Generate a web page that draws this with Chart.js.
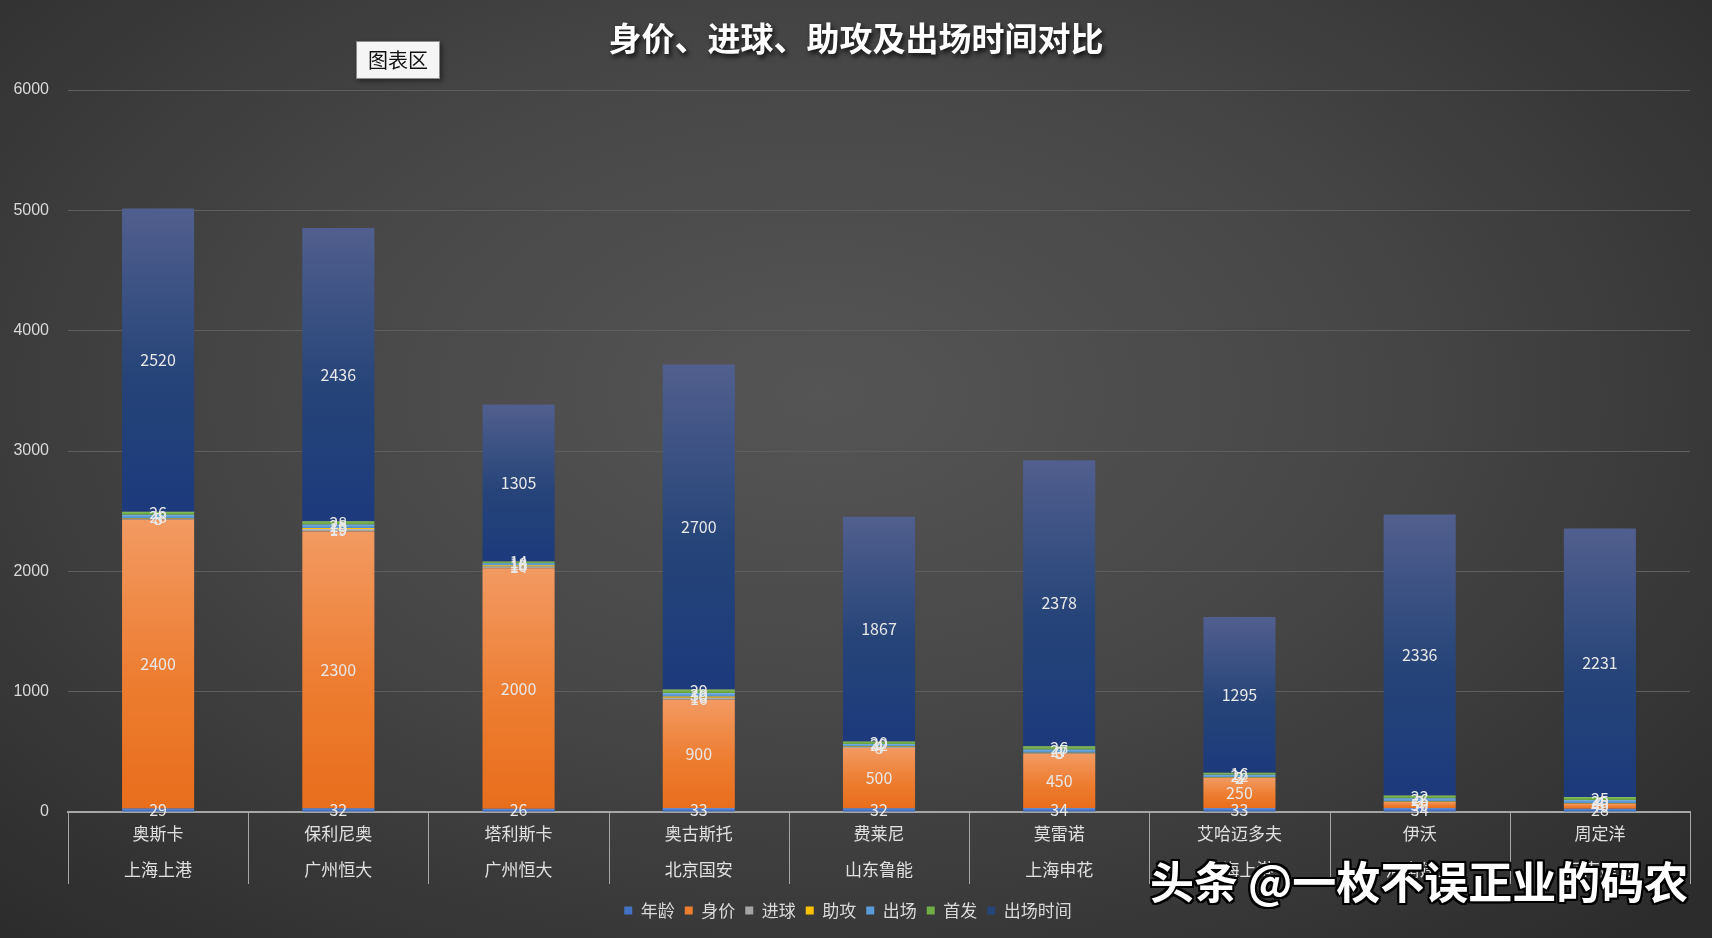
<!DOCTYPE html>
<html>
<head>
<meta charset="utf-8">
<title>身价、进球、助攻及出场时间对比</title>
<script src="https://cdn.jsdelivr.net/npm/chart.js@4/dist/chart.umd.min.js"></script>
<style>
  html, body { margin: 0; padding: 0; }
  body {
    width: 1712px; height: 938px; overflow: hidden; position: relative;
    background: radial-gradient(ellipse 70% 78% at 48% 42%, #555555 0%, #474747 45%, #2c2c2c 100%);
    font-family: "Noto Sans CJK SC", "Noto Sans", sans-serif;
  }
  #wrap { position: absolute; left: 0; top: 0; width: 1712px; height: 938px; }
  .tip {
    position: absolute; left: 356px; top: 41px; width: 82px; height: 36px;
    background: #f5f5f5; border: 1px solid #8c8c8c; color: #111;
    font-size: 20px; line-height: 36px; text-align: center;
    box-shadow: 2px 2px 5px rgba(0,0,0,0.45);
  }
  .mark {
    position: absolute; left: 1150px; top: 848px; color: #fff;
    font-size: 44px; font-weight: bold; white-space: nowrap;
    text-shadow: -2px -2px 0 #000, 2px -2px 0 #000, -2px 2px 0 #000, 2px 2px 0 #000, 0 2px 0 #000, 0 -2px 0 #000, 2px 0 0 #000, -2px 0 0 #000;
  }
</style>
</head>
<body>
<div id="wrap"><canvas id="chart" width="1712" height="938"></canvas></div>
<div class="tip">图表区</div>
<div class="mark">头条 @一枚不误正业的码农</div>
<script>
// players and clubs (two-line category labels)
const players = ["奥斯卡", "保利尼奥", "塔利斯卡", "奥古斯托", "费莱尼", "莫雷诺", "艾哈迈多夫", "伊沃", "周定洋"];
const clubs = ["上海上港", "广州恒大", "广州恒大", "北京国安", "山东鲁能", "上海申花", "上海上港", "河南建业", "河南建业"];

// series
const age     = [29, 32, 26, 33, 32, 34, 33, 34, 28];
const value   = [2400, 2300, 2000, 900, 500, 450, 250, 50, 40];
const goals   = [8, 19, 14, 16, 8, 6, 2, 2, 3];
const assists = [5, 10, 10, 10, 4, 3, 3, 3, 4];
const apps    = [28, 28, 18, 30, 22, 27, 22, 26, 25];
const starts  = [26, 28, 14, 29, 20, 26, 16, 22, 25];
const minutes = [2520, 2436, 1305, 2700, 1867, 2378, 1295, 2336, 2231];

const yTicks = [0, 1000, 2000, 3000, 4000, 5000, 6000];

const seriesNames = ["年龄", "身价", "进球", "助攻", "出场", "首发", "出场时间"];
const seriesData = [age, value, goals, assists, apps, starts, minutes];
const baseColors = ["#4472C4", "#ED7D31", "#A5A5A5", "#FFC000", "#5B9BD5", "#70AD47", "#264478"];
const topColors  = ["#6E90D2", "#F29A62", "#BDBDBD", "#FFD24D", "#82B4E0", "#8FC06C", "#515F8E"];
const botColors  = ["#3B66B8", "#E86E1C", "#989898", "#F2B600", "#4E8FCB", "#62A03B", "#1C3A7C"];

// gradient per segment, lighter on top
function segmentFill(ctx) {
  const chart = ctx.chart;
  const ds = ctx.datasetIndex;
  const y = chart.scales && chart.scales.y;
  if (ctx.type !== "data" || !y || !chart.chartArea) return baseColors[ds];
  let start = 0;
  for (let k = 0; k < ds; k++) start += seriesData[k][ctx.dataIndex];
  const end = start + seriesData[ds][ctx.dataIndex];
  const y0 = y.getPixelForValue(start), y1 = y.getPixelForValue(end);
  if (!isFinite(y0) || !isFinite(y1) || Math.abs(y0 - y1) < 1) return baseColors[ds];
  const g = chart.ctx.createLinearGradient(0, y1, 0, y0);
  g.addColorStop(0, topColors[ds]);
  g.addColorStop(0.55, baseColors[ds]);
  g.addColorStop(1, botColors[ds]);
  return g;
}

const datasets = seriesNames.map((name, i) => ({
  label: name,
  data: seriesData[i],
  backgroundColor: segmentFill,
  borderWidth: 0,
  barPercentage: 0.4,
  categoryPercentage: 1.0
}));

// value labels in the middle of each segment
const segmentLabels = {
  id: "segmentLabels",
  afterDatasetsDraw(chart) {
    const c = chart.ctx;
    c.save();
    c.font = "16px 'Noto Sans CJK SC', 'Noto Sans', sans-serif";
    c.fillStyle = "#e8e8e8";
    c.textAlign = "center";
    c.textBaseline = "middle";
    chart.data.datasets.forEach((ds, i) => {
      const meta = chart.getDatasetMeta(i);
      if (meta.hidden) return;
      meta.data.forEach((bar, j) => {
        const p = bar.getProps(["x", "y", "base"], true);
        c.fillText(String(ds.data[j]), p.x, (p.y + p.base) / 2);
      });
    });
    c.restore();
  }
};

// title with shadow + category separators under the axis
const decorations = {
  id: "decorations",
  afterDraw(chart) {
    const c = chart.ctx;
    const xs = chart.scales.x;
    const area = chart.chartArea;
    c.save();
    c.strokeStyle = "#a6a6a6";
    c.lineWidth = 1;
    const n = players.length;
    const w = (xs.right - xs.left) / n;
    for (let i = 0; i <= n; i++) {
      const x = Math.round(xs.left + w * i) + 0.5;
      c.beginPath();
      c.moveTo(x, area.bottom);
      c.lineTo(x, area.bottom + 72);
      c.stroke();
    }
    c.restore();

    c.save();
    c.font = "bold 33px 'Noto Sans CJK SC', sans-serif";
    c.textAlign = "center";
    c.textBaseline = "middle";
    c.shadowColor = "rgba(0,0,0,0.8)";
    c.shadowBlur = 5;
    c.shadowOffsetX = 2;
    c.shadowOffsetY = 3;
    c.fillStyle = "#ffffff";
    c.fillText("身价、进球、助攻及出场时间对比", chart.width / 2, 38);
    c.restore();
  }
};

const ctx = document.getElementById("chart").getContext("2d");
new Chart(ctx, {
  type: "bar",
  data: {
    labels: players.map((p, i) => [p, clubs[i]]),
    datasets: datasets
  },
  options: {
    responsive: false,
    animation: false,
    layout: { padding: { top: 90, right: 22, left: 6, bottom: 9 } },
    scales: {
      x: {
        stacked: true,
        grid: { display: false, drawTicks: false },
        border: { display: true, color: "#a6a6a6", width: 2 },
        ticks: {
          color: "#e0e0e0",
          padding: 4,
          font: { size: 17, family: "'Noto Sans CJK SC', sans-serif", lineHeight: "36px" }
        }
      },
      y: {
        stacked: true,
        min: 0,
        max: 6000,
        afterBuildTicks(scale) { scale.ticks = yTicks.map(v => ({ value: v })); },
        afterFit(scale) { scale.width = 62; },
        grid: { color: "#5e5e5e", lineWidth: 1, drawTicks: false },
        border: { display: false },
        ticks: {
          color: "#d9d9d9",
          padding: 19,
          callback: v => String(v),
          font: { size: 16, family: "'Liberation Sans', sans-serif" }
        }
      }
    },
    plugins: {
      legend: {
        position: "bottom",
        labels: {
          color: "#d9d9d9",
          boxWidth: 8,
          boxHeight: 8,
          padding: 10,
          font: { size: 17, family: "'Noto Sans CJK SC', sans-serif" },
          generateLabels(chart) {
            return chart.data.datasets.map((ds, i) => ({
              text: ds.label,
              fillStyle: baseColors[i],
              strokeStyle: baseColors[i],
              lineWidth: 0,
              fontColor: "#d9d9d9",
              hidden: !chart.isDatasetVisible(i),
              datasetIndex: i
            }));
          }
        }
      },
      tooltip: { enabled: false }
    }
  },
  plugins: [segmentLabels, decorations]
});
</script>
</body>
</html>
